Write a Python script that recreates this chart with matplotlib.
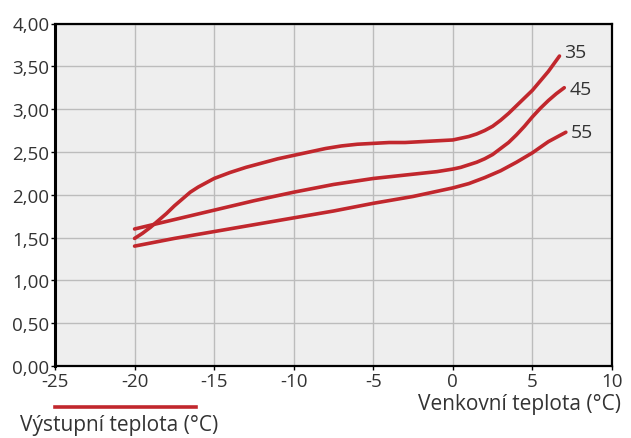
import matplotlib
matplotlib.use("Agg")
import matplotlib.pyplot as plt
from matplotlib.ticker import FuncFormatter, MultipleLocator
from matplotlib.lines import Line2D

plt.rcParams['font.family'] = ['Open Sans', 'DejaVu Sans']

# Data
x35 = [-20, -19.5, -19, -18.5, -18, -17.5, -17, -16.5, -16, -15.5, -15, -14, -13, -12, -11, -10,
       -9, -8, -7, -6, -5, -4, -3, -2, -1, 0, 0.5, 1, 1.5, 2, 2.5, 3, 3.5, 4, 4.5, 5, 5.5, 6, 6.7]
y35 = [1.49, 1.55, 1.62, 1.70, 1.78, 1.87, 1.95, 2.03, 2.09, 2.14, 2.19, 2.26, 2.32, 2.37, 2.42, 2.46,
       2.50, 2.54, 2.57, 2.59, 2.60, 2.61, 2.61, 2.62, 2.63, 2.64, 2.66, 2.68, 2.71, 2.75, 2.80, 2.87,
       2.95, 3.04, 3.13, 3.22, 3.33, 3.44, 3.62]

x45 = [-20, -17.5, -15, -12.5, -10, -7.5, -5, -2.5, -1, 0, 0.5, 1, 1.5, 2, 2.5, 3, 3.5, 4, 4.5, 5, 5.5, 6, 6.5, 7]
y45 = [1.60, 1.71, 1.82, 1.93, 2.03, 2.12, 2.19, 2.24, 2.27, 2.30, 2.32, 2.35, 2.38, 2.42, 2.47, 2.54,
       2.61, 2.70, 2.80, 2.91, 3.01, 3.10, 3.18, 3.25]

x55 = [-20, -17.5, -15, -12.5, -10, -7.5, -5, -2.5, 0, 1, 2, 3, 4, 5, 6, 7.1]
y55 = [1.40, 1.49, 1.57, 1.65, 1.73, 1.81, 1.90, 1.98, 2.08, 2.13, 2.20, 2.28, 2.38, 2.49, 2.62, 2.73]

series_labels = ["35", "45", "55"]
label_offsets = [(5, 4), (5, -1), (5, 0)]

xlabel = "Venkovní teplota (°C)"
legend_title = "Výstupní teplota (°C)"

RED = "#c1272d"
TXT = "#333333"

fig = plt.figure(figsize=(6.31, 4.39), dpi=100)
ax = fig.add_axes([55/631, 1-367/439, (612-55)/631, (367-24.5)/439])
ax.set_facecolor("#eeeeee")

for xs, ys, lab, off in zip([x35, x45, x55], [y35, y45, y55], series_labels, label_offsets):
    ax.plot(xs, ys, color=RED, lw=2.6, solid_capstyle='round', solid_joinstyle='round', zorder=3)
    ax.annotate(lab, (xs[-1], ys[-1]), xytext=off, textcoords='offset pixels',
                ha='left', va='center', fontsize=14, color=TXT)

ax.set_xlim(-25, 10)
ax.set_ylim(0, 4)
ax.xaxis.set_major_locator(MultipleLocator(5))
ax.yaxis.set_major_locator(MultipleLocator(0.5))
ax.yaxis.set_major_formatter(FuncFormatter(lambda v, p: f"{v:.2f}".replace('.', ',')))
ax.xaxis.set_major_formatter(FuncFormatter(lambda v, p: f"{int(round(v))}"))
ax.grid(True, color="#bcbcbc", lw=1.0, zorder=1)
ax.set_axisbelow(True)

for s in ax.spines.values():
    s.set_color("black")
    s.set_linewidth(1.6)
ax.spines['left'].set_linewidth(2.2)

ax.tick_params(axis='both', direction='out', length=3, width=1, color='black',
               labelsize=13.5, labelcolor=TXT)
ax.tick_params(axis='y', pad=1)
ax.tick_params(axis='x', pad=1)

fig.text(621/631, 1-405/439, xlabel, ha='right', va='center', fontsize=15, color=TXT)
fig.add_artist(Line2D([55/631, 196/631], [1-408/439, 1-408/439], color=RED, lw=2.6,
                      transform=fig.transFigure))
fig.text(20/631, 1-426/439, legend_title, ha='left', va='center', fontsize=15, color=TXT)

fig.savefig("out.png", dpi=100)
